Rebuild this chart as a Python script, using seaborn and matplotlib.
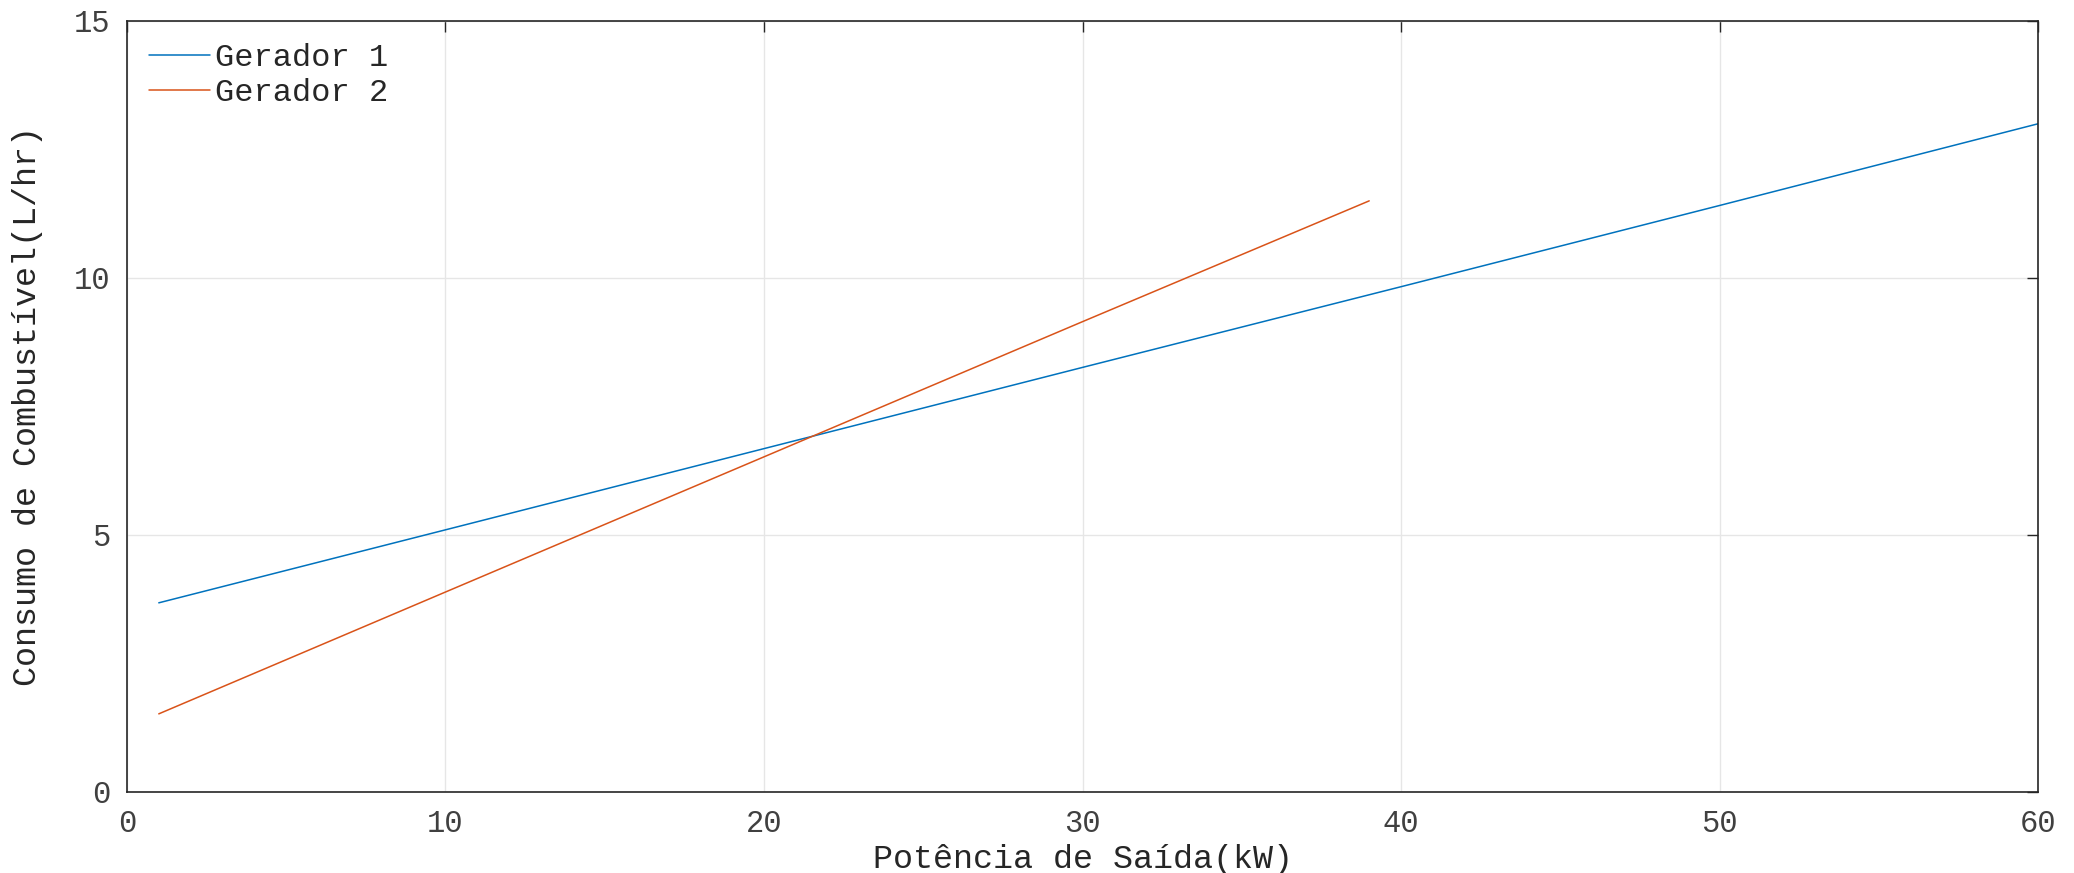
import pandas as pd
import matplotlib
matplotlib.use("Agg")
import matplotlib.pyplot as plt
import seaborn as sns

# values
potencia_g1 = [1, 10, 20, 30, 40, 50, 60]
consumo_g1 = [3.68, 5.10, 6.68, 8.26, 9.83, 11.41, 13.0]
potencia_g2 = [1, 10, 20, 30, 39]
consumo_g2 = [1.52, 3.89, 6.52, 9.15, 11.5]

x_ticks = [0, 10, 20, 30, 40, 50, 60]
y_ticks = [0, 5, 10, 15]

sns.set_style("white")
plt.rcParams['font.family'] = ['Liberation Mono', 'DejaVu Sans Mono']
plt.rcParams['text.color'] = '#262626'

df = pd.concat([
    pd.DataFrame({'P': potencia_g1, 'C': consumo_g1, 'Gerador': 'Gerador 1'}),
    pd.DataFrame({'P': potencia_g2, 'C': consumo_g2, 'Gerador': 'Gerador 2'}),
], ignore_index=True)

fig = plt.figure(figsize=(20.74, 8.73), dpi=100)
ax = fig.add_axes([0.0612, 0.0928, 0.9215, 0.8832])

sns.lineplot(data=df, x='P', y='C', hue='Gerador',
             palette=['#0072BD', '#D95319'], linewidth=1.1, ax=ax)

ax.set_xlim(0, 60)
ax.set_ylim(0, 15)
ax.set_xticks(x_ticks)
ax.set_yticks(y_ticks)
ax.grid(True, color='#e6e6e6', linewidth=1)
ax.set_axisbelow(True)
for s in ax.spines.values():
    s.set_color('#262626')
    s.set_linewidth(1.2)
ax.tick_params(direction='in', length=8, width=1, colors='#262626',
               labelcolor='#404040', labelsize=22, top=True, right=True, pad=12)

ax.set_xlabel("Potência de Saída(kW)", fontsize=24, color='#262626', labelpad=4)
ax.set_ylabel("Consumo de Combustível(L/hr)", fontsize=24, color='#262626', labelpad=22)

leg = ax.legend(loc='upper left', frameon=False, fontsize=23, handlelength=1.9,
                handletextpad=0.15, borderaxespad=0.3, labelspacing=0.15)
leg.set_title(None)

fig.savefig("out.png", dpi=100)
